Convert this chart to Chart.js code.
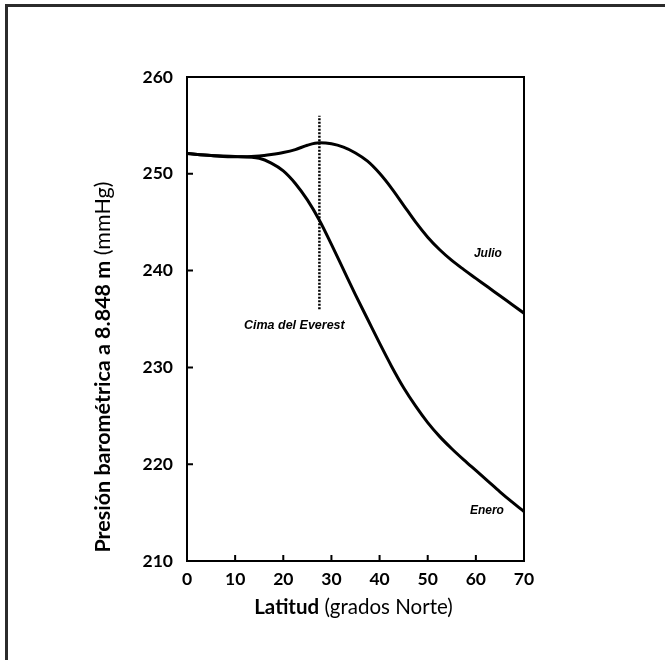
<!DOCTYPE html>
<html><head><meta charset="utf-8">
<script src="https://cdn.jsdelivr.net/npm/chart.js@4/dist/chart.umd.min.js"></script>
<style>
html,body{margin:0;padding:0;background:#fff;}
#wrap{position:relative;width:665px;height:660px;overflow:hidden;}
#frame{position:absolute;left:5px;top:4px;width:700px;height:700px;border-top:3px solid #2b2b2b;border-left:3px solid #2b2b2b;}
canvas{position:absolute;left:0;top:0;}
</style></head><body>
<div id="wrap"><canvas id="c" width="665" height="660"></canvas><div id="frame"></div></div>
<script>
// Latitude (degrees North)
const latitude = [0, 5, 10, 15, 17.5, 20, 22.5, 25, 27.5, 30, 32.5, 35, 37.5, 40, 42.5, 45, 47.5, 50, 52.5, 55, 57.5, 60, 62.5, 65, 67.5, 70];
// Barometric pressure at 8,848 m (mmHg)
const julio = [252.1, 251.9, 251.75, 251.85, 252.0, 252.2, 252.5, 252.95, 253.2, 253.1, 252.75, 252.15, 251.3, 250.05, 248.5, 246.75, 245.0, 243.45, 242.15, 241.05, 240.1, 239.2, 238.3, 237.4, 236.5, 235.6];
const enero = [252.1, 251.9, 251.8, 251.6, 251.1, 250.3, 249.0, 247.3, 245.2, 242.7, 240.1, 237.5, 235.0, 232.5, 230.1, 227.9, 226.0, 224.3, 222.85, 221.6, 220.45, 219.35, 218.25, 217.15, 216.1, 215.1];
// Everest summit marker
const everestLat = [27.5, 27.5];
const everestP = [236, 256];
const xTicks = [0, 10, 20, 30, 40, 50, 60, 70];
const yTicks = [210, 220, 230, 240, 250, 260];
const notes = [
  {text: 'Julio', x: 62.5, y: 241.7},
  {text: 'Enero', x: 62.3, y: 215.2},
  {text: 'Cima del Everest', x: 22.3, y: 234.3}
];
const xTitle = ['Latitud', ' (grados Norte)'];
const yTitle = ['Presión barométrica a 8.848 m', ' (mmHg)'];

const pts = (xs, ys) => xs.map((v, i) => ({x: v, y: ys[i]}));

const FONT = 'Lato, "Open Sans", sans-serif';

const deco = {
  id: 'deco',
  afterDatasetsDraw(chart) {
    const {ctx, chartArea: a, scales: {x, y}} = chart;
    ctx.save();
    ctx.strokeStyle = '#000';
    ctx.lineWidth = 2;
    ctx.strokeRect(a.left, a.top, a.width, a.height);
    ctx.beginPath();
    xTicks.forEach(v => { const p = x.getPixelForValue(v); ctx.moveTo(p, a.bottom); ctx.lineTo(p, a.bottom - 6); });
    yTicks.forEach(v => { const p = y.getPixelForValue(v); ctx.moveTo(a.left, p); ctx.lineTo(a.left + 6, p); });
    ctx.stroke();
    ctx.fillStyle = '#000';
    ctx.textAlign = 'center';
    ctx.textBaseline = 'middle';
    notes.forEach(n => {
      ctx.font = 'italic bold ' + (n.text.length > 6 ? 12.5 : 12) + 'px "Liberation Sans", Arial, sans-serif';
      ctx.fillText(n.text, x.getPixelForValue(n.x), y.getPixelForValue(n.y));
    });
    const drawTitle = (parts, cx, cy, rot, size) => {
      ctx.save();
      ctx.translate(cx, cy);
      if (rot) ctx.rotate(-Math.PI / 2);
      const fb = 'bold ' + size + 'px ' + FONT, fn = size + 'px ' + FONT;
      ctx.font = fb; const w1 = ctx.measureText(parts[0]).width;
      ctx.font = fn; const w2 = ctx.measureText(parts[1]).width;
      const start = -(w1 + w2) / 2;
      ctx.textAlign = 'left';
      ctx.textBaseline = 'middle';
      ctx.font = fb; ctx.fillText(parts[0], start, 0);
      ctx.font = fn; ctx.fillText(parts[1], start + w1, 0);
      ctx.restore();
    };
    drawTitle(xTitle, (a.left + a.right) / 2 - 2, 607, false, 20.5);
    drawTitle(yTitle, 103, 367, true, 21.5);
    ctx.restore();
  }
};

new Chart(document.getElementById('c'), {
  type: 'line',
  data: {
    datasets: [
      {data: pts(latitude, julio), borderColor: '#000', borderWidth: 3, pointRadius: 0, cubicInterpolationMode: 'monotone', fill: false},
      {data: pts(latitude, enero), borderColor: '#000', borderWidth: 3, pointRadius: 0, cubicInterpolationMode: 'monotone', fill: false},
      {data: pts(everestLat, everestP), borderColor: '#000', borderWidth: 2.5, borderDash: [2, 1.5], pointRadius: 0, fill: false}
    ]
  },
  options: {
    responsive: false,
    animation: false,
    events: [],
    layout: {padding: {top: 77, right: 141, bottom: 0, left: 0}},
    plugins: {legend: {display: false}, tooltip: {enabled: false}},
    scales: {
      x: {
        type: 'linear', min: 0, max: 70,
        grid: {display: false, drawTicks: false},
        border: {display: false},
        afterFit: s => { s.height = 99; },
        afterBuildTicks: s => { s.ticks = xTicks.map(v => ({value: v})); },
        ticks: {color: '#000', font: {family: FONT, size: 17.5, weight: 'bold'}, padding: 8, maxRotation: 0}
      },
      y: {
        type: 'linear', min: 210, max: 260,
        grid: {display: false, drawTicks: false},
        border: {display: false},
        afterFit: s => { s.width = 187; },
        afterBuildTicks: s => { s.ticks = yTicks.map(v => ({value: v})); },
        ticks: {color: '#000', font: {family: FONT, size: 17.5, weight: 'bold'}, padding: 14}
      }
    }
  },
  plugins: [deco]
});
</script>
</body></html>
